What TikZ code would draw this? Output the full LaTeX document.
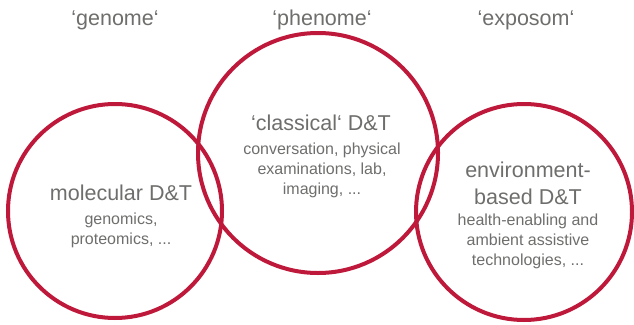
\documentclass[tikz,border=0pt]{standalone}
\usepackage{fontspec}
\setmainfont{Liberation Sans}
\definecolor{ringred}{RGB}{190,25,58}
\definecolor{labelgray}{RGB}{110,110,108}
\begin{document}
\begin{tikzpicture}[x=1pt,y=-1pt,
  ring/.style={draw=ringred,line width=4pt,circle,inner sep=0pt},
  head/.style={text=labelgray,anchor=base,font=\fontsize{21.5}{26}\selectfont},
  title/.style={text=labelgray,align=center,anchor=base,font=\fontsize{21.5}{27}\selectfont},
  body/.style={text=labelgray,align=center,anchor=base,font=\fontsize{16}{19.8}\selectfont}]
\useasboundingbox (0,0) rectangle (634,324);
% three overlapping rings
\node[ring,minimum size=214pt] (genome) at (115,211) {};
\node[ring,minimum size=240pt] (phenome) at (318,153) {};
\node[ring,minimum size=216pt] (exposom) at (524,212) {};
% headings above the rings
\node[head] (hg) at (115,25) {‘genome‘};
\node[head] (hp) at (322,25) {‘phenome‘};
\node[head] (he) at (526,25) {‘exposom‘};
% text blocks: each anchored at the baseline of its last line
\node[title] (molT) at (121,200) {molecular D\&T};
\node[body] (molB) at (121,244) {genomics,\\proteomics, ...};
\node[title] (claT) at (321,130) {‘classical‘ D\&T};
\node[body] (claB) at (322,194) {conversation, physical\\examinations, lab,\\imaging, ...};
\node[title] (envT) at (528,204) {environment-\\based D\&T};
\node[body] (envB) at (528,265) {health-enabling and\\ambient assistive\\technologies, ...};
\end{tikzpicture}
\end{document}
